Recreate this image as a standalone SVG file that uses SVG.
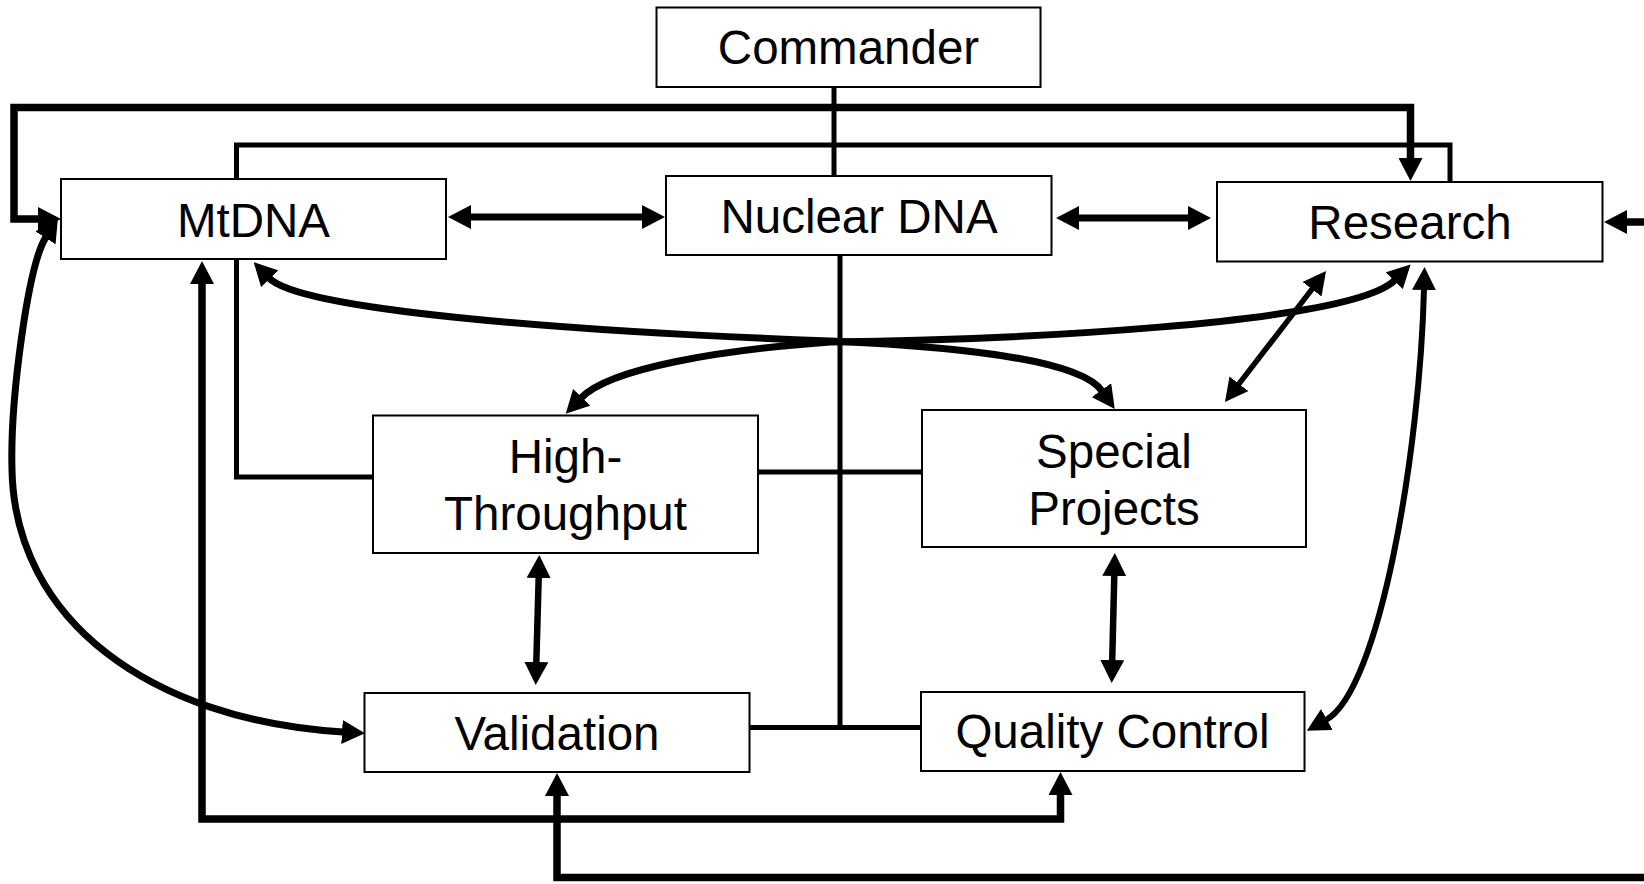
<svg xmlns="http://www.w3.org/2000/svg" width="1644" height="884" viewBox="0 0 1644 884">
<style>
.box{fill:#fff;stroke:#000;stroke-width:2}
.lbl{font-family:"Liberation Sans",Arial,sans-serif;font-size:47.5px;fill:#000;text-anchor:middle}
.thin{fill:none;stroke:#000;stroke-width:5}
.thick{fill:none;stroke:#000;stroke-width:7.5;stroke-linejoin:miter}
.arr{marker-start:url(#ah);marker-end:url(#ah)}
.end{marker-end:url(#ah)}
.start{marker-start:url(#ah)}
</style>
<defs>
<marker id="ah" markerUnits="userSpaceOnUse" viewBox="0 -12 23 24" markerWidth="23" markerHeight="24" refX="1" refY="0" orient="auto-start-reverse">
<path d="M0,-12 L23,0 L0,12 z" fill="#000"/>
</marker>
</defs>
<rect width="1644" height="884" fill="#fff"/>
<g id="connectors">
<path class="thin" d="M834,87 V176"/>
<path class="thin" d="M236.5,179 V145 H1450 V182"/>
<path class="thin" d="M236.5,259 V477 H373"/>
<path class="thin" d="M840,255 V727.5"/>
<path class="thin" d="M758,472 H922"/>
<path class="thin" d="M749,727.5 H921"/>
<path class="thick arr" d="M1410.5,159 V107.5 H14 V219 H39"/>
<path class="thick arr" d="M202,283 V819 H1060.5 V794"/>
<path class="thick start" d="M557,795 V877.5 H1650"/>
<path class="thick end" d="M1650,222 H1626"/>
<path class="thick arr" style="stroke-width:7" d="M470,217 H643"/>
<path class="thick arr" style="stroke-width:7" d="M1078,218 H1189"/>
<path class="thick arr" style="stroke-width:6.5" d="M538.7,577 L536.3,663"/>
<path class="thick arr" style="stroke-width:6.5" d="M1114.3,575 L1112.2,661"/>
<path class="thick arr" style="stroke-width:5.5" d="M1312.6,288.4 L1238.4,384.6"/>
<path class="thick arr" style="stroke-width:7" d="M269,278 C300,310 560,331 830,341 C965,347 1080,360 1102,391"/>
<path class="thick arr" style="stroke-width:7" d="M581,398 C610,368 720,350 830,342 C1000,340 1350,325 1395,280"/>
<path class="thick arr" style="stroke-width:6" d="M1424,289 C1420,450 1380,690 1326,720"/>
<path class="thick arr" style="stroke-width:7" d="M46,237 C28,265 10,400 12,470 C15,620 150,720 343,732"/>
</g>
<g id="commander"><rect class="box" x="656.5" y="7.5" width="384" height="79.5"/><text class="lbl" x="848.5" y="64">Commander</text></g>
<g id="mtdna"><rect class="box" x="61" y="179" width="385" height="80"/><text class="lbl" x="253.5" y="237">MtDNA</text></g>
<g id="nuclear-dna"><rect class="box" x="666" y="176" width="385.5" height="79"/><text class="lbl" x="859" y="233">Nuclear DNA</text></g>
<g id="research"><rect class="box" x="1217" y="182" width="385.5" height="79.5"/><text class="lbl" x="1410" y="239">Research</text></g>
<g id="high-throughput"><rect class="box" x="373" y="415.5" width="385" height="137.5"/><text class="lbl" x="565.5" y="473">High-</text><text class="lbl" x="565.5" y="530">Throughput</text></g>
<g id="special-projects"><rect class="box" x="922" y="410" width="384" height="137"/><text class="lbl" x="1114" y="468">Special</text><text class="lbl" x="1114" y="525">Projects</text></g>
<g id="validation"><rect class="box" x="364.5" y="693" width="385" height="79"/><text class="lbl" x="557" y="750">Validation</text></g>
<g id="quality-control"><rect class="box" x="921" y="692" width="383.5" height="79"/><text class="lbl" x="1112.5" y="748">Quality Control</text></g>
</svg>
